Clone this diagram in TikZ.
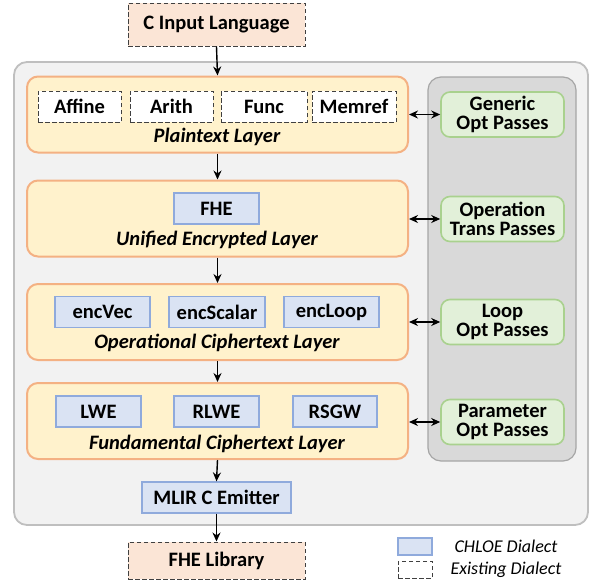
\documentclass[tikz,border=0pt]{standalone}
\usepackage{fontspec}
\setmainfont{Carlito}
\usetikzlibrary{arrows.meta}
\definecolor{peach}{HTML}{FBE5D6}
\definecolor{layfill}{HTML}{FFF2CC}
\definecolor{laydraw}{HTML}{F4B183}
\definecolor{bluefill}{HTML}{DAE3F3}
\definecolor{bluedraw}{HTML}{8FAADC}
\definecolor{grnfill}{HTML}{E2F0D9}
\definecolor{grndraw}{HTML}{A9D18E}
\definecolor{grayfill}{HTML}{D9D9D9}
\definecolor{graydraw}{HTML}{A6A6A6}
\definecolor{outfill}{HTML}{F2F2F2}
\definecolor{outdraw}{HTML}{BFBFBF}
\definecolor{dashdraw}{HTML}{404040}
\tikzset{
  txt/.style={font=\fontsize{20.5}{19.5}\selectfont\bfseries},
  dashbox/.style={txt, draw=dashdraw, line width=1pt, dash pattern=on 4.5pt off 2.5pt, inner sep=0pt, minimum height=31pt},
  extbox/.style={dashbox, fill=peach},
  wbox/.style={dashbox, fill=white},
  cbox/.style={txt, draw=bluedraw, fill=bluefill, line width=1.2pt, inner sep=0pt, minimum height=31pt},
  layer/.style={draw=laydraw, fill=layfill, line width=2pt, rounded corners=11pt, minimum width=381pt, minimum height=76pt, inner sep=0pt},
  laylabel/.style={font=\fontsize{20.5}{19.5}\selectfont\bfseries\itshape},
  pass/.style={txt, align=center, draw=grndraw, fill=grnfill, line width=1.6pt, rounded corners=9pt, minimum width=123pt, minimum height=45pt, inner sep=0pt},
  arr/.style={line width=1.4pt, -{Stealth[length=9pt,width=8pt]}},
  darr/.style={line width=1.4pt, {Stealth[length=9pt,width=8pt]}-{Stealth[length=9pt,width=8pt]}},
  legtxt/.style={font=\fontsize{18}{18}\selectfont\itshape, anchor=west}
}
\begin{document}
\begin{tikzpicture}[x=1pt,y=-1pt]
\useasboundingbox[fill=white] (0,0) rectangle (595,582);
% outer container
\node[draw=outdraw, fill=outfill, line width=1.8pt, rounded corners=13pt, minimum width=574pt, minimum height=463pt, inner sep=0pt] (outer) at (301,293.5) {};
% passes container
\node[draw=graydraw, fill=grayfill, line width=1.2pt, rounded corners=13pt, minimum width=148pt, minimum height=384pt, inner sep=0pt] (passbg) at (502,269) {};
% top / bottom
\node[extbox, minimum width=177pt, minimum height=43pt] (cin) at (216.5,24.5) {C Input Language};
\node[extbox, minimum width=177pt, minimum height=37pt] (lib) at (216.5,560.5) {FHE Library};
% layers
\node[layer] (plain) at (217.5,114.5) {};
\node[layer] (unif) at (217.5,218.5) {};
\node[layer] (oper) at (217.5,322) {};
\node[layer] (fund) at (217.5,421) {};
% plaintext layer contents
\node[wbox, minimum width=83pt] (affine) at (79.5,106.5) {Affine};
\node[wbox, minimum width=83pt] (arith) at (171.5,106.5) {Arith};
\node[wbox, minimum width=86pt] (func) at (264,106.5) {Func};
\node[wbox, minimum width=84pt] (memref) at (354,106.5) {Memref};
\node[laylabel] (plainlbl) at (217,137) {Plaintext Layer};
% unified
\node[cbox, minimum width=85pt] (fhe) at (216.5,208.5) {FHE};
\node[laylabel] (uniflbl) at (217,240) {Unified Encrypted Layer};
% operational
\node[cbox, minimum width=95pt] (encvec) at (102.5,312) {encVec};
\node[cbox, minimum width=96pt] (encscalar) at (217,312) {encScalar};
\node[cbox, minimum width=95pt] (encloop) at (331.5,312) {encLoop};
\node[laylabel] (operlbl) at (217,343) {Operational Ciphertext Layer};
% fundamental
\node[cbox, minimum width=85pt] (lwe) at (98.5,411.5) {LWE};
\node[cbox, minimum width=85pt] (rlwe) at (216.5,411.5) {RLWE};
\node[cbox, minimum width=84pt] (rsgw) at (335,411.5) {RSGW};
\node[laylabel] (fundlbl) at (217,444) {Fundamental Ciphertext Layer};
% emitter
\node[cbox, minimum width=149pt] (mlir) at (216.5,497.5) {MLIR C Emitter};
% passes
\node[pass] (gen) at (502.5,114.5) {Generic\\Opt Passes};
\node[pass] (optr) at (502.5,219) {Operation\\Trans Passes};
\node[pass] (loop) at (502.5,322) {Loop\\Opt Passes};
\node[pass] (param) at (502.5,422) {Parameter\\Opt Passes};
% vertical arrows
\draw[arr] (cin.south) -- (plain.north);
\draw[arr] (plain.south) -- (unif.north);
\draw[arr] (unif.south) -- (oper.north);
\draw[arr] (oper.south) -- (fund.north);
\draw[arr] (fund.south) -- (mlir.north);
\draw[arr] (mlir.south) -- (lib.north);
% double arrows
\draw[darr] (gen.west -| plain.east) -- (gen.west);
\draw[darr] (optr.west -| unif.east) -- (optr.west);
\draw[darr] (loop.west -| oper.east) -- (loop.west);
\draw[darr] (param.west -| fund.east) -- (param.west);
% legend
\node[draw=bluedraw, fill=bluefill, line width=1.2pt, minimum width=34pt, minimum height=17pt, inner sep=0pt] (legc) at (415,546.5) {};
\node[draw=dashdraw, fill=white, line width=1pt, dash pattern=on 4.5pt off 2.5pt, minimum width=34pt, minimum height=17pt, inner sep=0pt] (lege) at (415,569.5) {};
\node[legtxt] (legct) at (451,546) {CHLOE Dialect};
\node[legtxt] (leget) at (447,570) {Existing Dialect};
\end{tikzpicture}
\end{document}
